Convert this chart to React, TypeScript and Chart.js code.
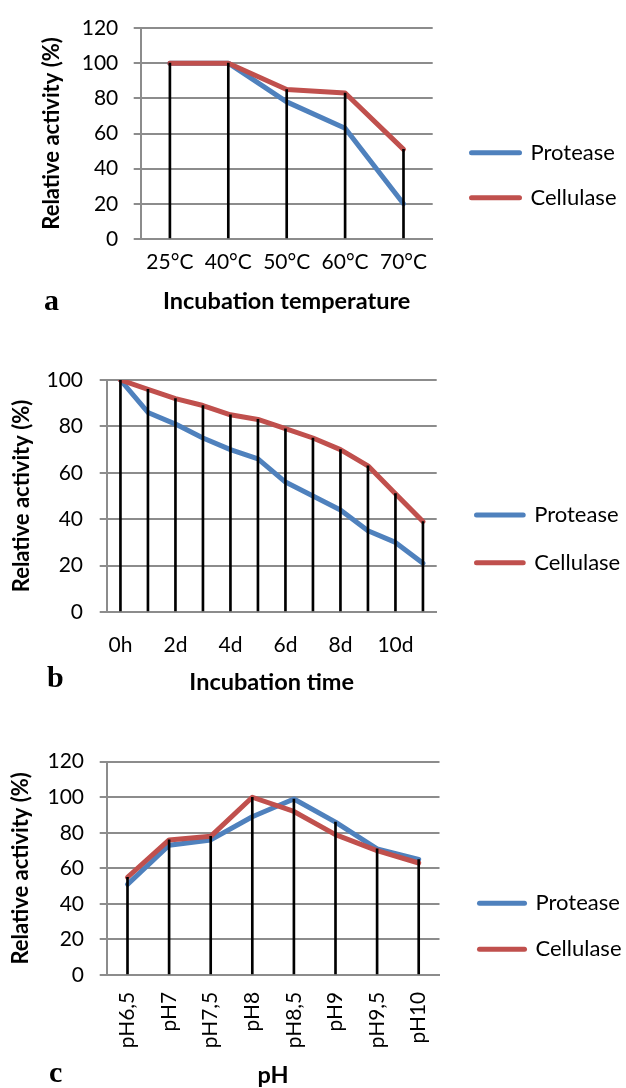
import React, { useEffect, useRef } from 'react';
import { Chart, registerables } from 'chart.js';

Chart.register(...registerables);

// ---------- data ----------
const tempLabels = ['25°C', '40°C', '50°C', '60°C', '70°C'];
const tempProtease = [100, 100, 78, 63, 20];
const tempCellulase = [100, 100, 85, 83, 51];

const timeLabels = ['0h', '1d', '2d', '3d', '4d', '5d', '6d', '7d', '8d', '9d', '10d', '11d'];
const timeProtease = [100, 86, 81, 75, 70, 66, 56, 50, 44, 35, 30, 21];
const timeCellulase = [100, 96, 92, 89, 85, 83, 79, 75, 70, 63, 51, 39];

const phLabels = ['pH6,5', 'pH7', 'pH7,5', 'pH8', 'pH8,5', 'pH9', 'pH9,5', 'pH10'];
const phProtease = [51, 73, 76, 89, 99, 86, 71, 65];
const phCellulase = [55, 76, 78, 100, 92, 79, 70, 63];

const seriesNames = ['Protease', 'Cellulase'];
const yTitle = 'Relative activity (%)';
const yStep = 20;

// ---------- style ----------
const FONT = 'Lato';
const BLUE = '#4F81BD';
const RED = '#C0504D';
const GRID = '#8c8c8c';
const CANVAS_W = 680;
const LEGEND_SIZE = 22;

type Cfg = {
  labels: string[];
  protease: number[];
  cellulase: number[];
  yMax: number;
  xTitle: string;
  top: number;
  height: number;
  padTop: number;
  padBottom: number;
  plotRight: number;
  yWidth: number;
  yTitlePad: number;
  yTickPad: number;
  xHeight: number;
  xTickPad: number;
  xTitlePad: number;
  rotate: boolean;
  skipOdd: boolean;
  gap: number;
  legendPad: number;
  boxW: number;
};

const charts: Cfg[] = [
  {
    labels: tempLabels, protease: tempProtease, cellulase: tempCellulase, yMax: 120,
    xTitle: 'Incubation temperature', top: 0, height: 340,
    padTop: 23, padBottom: 12.6, plotRight: 432.7, yWidth: 140.7, yTitlePad: 39, yTickPad: 15.4,
    xHeight: 88.4, xTickPad: 10.7, xTitlePad: 11.5, rotate: false, skipOdd: false,
    gap: 15.8, legendPad: 23, boxW: 48,
  },
  {
    labels: timeLabels, protease: timeProtease, cellulase: timeCellulase, yMax: 100,
    xTitle: 'Incubation time', top: 350, height: 360,
    padTop: 30, padBottom: 12.3, plotRight: 436.7, yWidth: 106.7, yTitlePad: 8.8, yTickPad: 16.7,
    xHeight: 85.7, xTickPad: 20.9, xTitlePad: 0.8, rotate: false, skipOdd: true,
    gap: 14.1, legendPad: 25.7, boxW: 46.7,
  },
  {
    labels: phLabels, protease: phProtease, cellulase: phCellulase, yMax: 120,
    xTitle: 'pH', top: 720, height: 372,
    padTop: 41.7, padBottom: 1.1, plotRight: 439.5, yWidth: 106.7, yTitlePad: 7.5, yTickPad: 15.7,
    xHeight: 115.9, xTickPad: 16.7, xTitlePad: 1.5, rotate: true, skipOdd: false,
    gap: 16, legendPad: 24, boxW: 45,
  },
];

const panelLetters = [
  { text: 'a', left: 44, top: 285 },
  { text: 'b', left: 47, top: 662 },
  { text: 'c', left: 49, top: 1057 },
];

function LineChart({ cfg }: { cfg: Cfg }) {
  const ref = useRef<HTMLCanvasElement>(null);
  useEffect(() => {
    const drop = cfg.protease.map((v, i) => Math.max(v, cfg.cellulase[i]));
    const tickFont = { family: FONT, size: 21 };
    const yTitleFont = { family: FONT, size: 22, weight: 'bold' as const };
    const xTitleFont = { family: FONT, size: 23.5, weight: 'bold' as const };

    // legend width: just enough to hold the longest label
    const mctx = document.createElement('canvas').getContext('2d')!;
    mctx.font = `${LEGEND_SIZE}px ${FONT}`;
    const textW = Math.max(...seriesNames.map((t) => mctx.measureText(t).width));
    const legendW = cfg.legendPad + cfg.boxW + LEGEND_SIZE / 2 + textW + 2;
    const padRight = CANVAS_W - cfg.plotRight - cfg.gap - legendW;

    const chart = new Chart(ref.current!, {
      type: 'line',
      data: {
        labels: cfg.labels,
        datasets: [
          {
            type: 'bar' as any,
            label: 'drop',
            data: drop,
            backgroundColor: '#000',
            borderWidth: 0,
            barThickness: 2,
            order: 0,
          } as any,
          {
            label: seriesNames[1],
            data: cfg.cellulase,
            borderColor: RED,
            backgroundColor: RED,
            borderWidth: 5,
            pointRadius: 0,
            tension: 0,
            borderCapStyle: 'round',
            borderJoinStyle: 'round',
            order: 1,
          },
          {
            label: seriesNames[0],
            data: cfg.protease,
            borderColor: BLUE,
            backgroundColor: BLUE,
            borderWidth: 5,
            pointRadius: 0,
            tension: 0,
            borderCapStyle: 'round',
            borderJoinStyle: 'round',
            order: 2,
          },
        ],
      },
      options: {
        responsive: false,
        animation: false,
        events: [],
        layout: { padding: { top: cfg.padTop, bottom: cfg.padBottom, left: 0, right: padRight } },
        plugins: {
          tooltip: { enabled: false },
          legend: {
            position: 'right',
            align: 'center',
            maxWidth: legendW,
            labels: {
              usePointStyle: true,
              pointStyle: 'line',
              pointStyleWidth: cfg.boxW,
              padding: cfg.legendPad,
              color: '#000',
              font: { family: FONT, size: LEGEND_SIZE },
              generateLabels: () => [
                { text: seriesNames[0], strokeStyle: BLUE, fillStyle: BLUE, lineWidth: 5, lineCap: 'round', pointStyle: 'line', hidden: false, datasetIndex: 2 } as any,
                { text: seriesNames[1], strokeStyle: RED, fillStyle: RED, lineWidth: 5, lineCap: 'round', pointStyle: 'line', hidden: false, datasetIndex: 1 } as any,
              ],
            },
          },
        },
        scales: {
          x: {
            type: 'category',
            offset: true,
            grid: { display: false, drawTicks: false },
            border: { display: true, color: GRID, width: 2 },
            ticks: {
              color: '#000',
              font: tickFont,
              padding: cfg.xTickPad,
              autoSkip: false,
              maxRotation: cfg.rotate ? 90 : 0,
              minRotation: cfg.rotate ? 90 : 0,
              callback: (_v: any, i: number) => (cfg.skipOdd && i % 2 === 1 ? '' : cfg.labels[i]),
            },
            title: {
              display: true,
              text: cfg.xTitle,
              color: '#000',
              font: xTitleFont,
              padding: { top: 0, bottom: cfg.xTitlePad },
            },
            afterFit: (s: any) => { s.height = cfg.xHeight; },
          },
          y: {
            type: 'linear',
            min: 0,
            max: cfg.yMax,
            ticks: { stepSize: yStep, color: '#000', font: tickFont, padding: cfg.yTickPad },
            grid: { color: GRID, lineWidth: 2, tickLength: 7, drawTicks: true },
            border: { display: true, color: GRID, width: 2 },
            title: {
              display: true,
              text: yTitle,
              color: '#000',
              font: yTitleFont,
              padding: { top: cfg.yTitlePad, bottom: 0 },
            },
            afterFit: (s: any) => { s.width = cfg.yWidth; },
          },
          gapAxis: {
            type: 'linear',
            position: 'right',
            display: true,
            grid: { display: false, drawTicks: false },
            border: { display: false },
            ticks: { display: false },
            title: { display: false },
            afterFit: (s: any) => { s.width = cfg.gap; },
          },
        },
      } as any,
    });
    return () => chart.destroy();
  }, [cfg]);
  return (
    <canvas
      ref={ref}
      width={CANVAS_W}
      height={cfg.height}
      style={{ position: 'absolute', left: 0, top: cfg.top, width: CANVAS_W, height: cfg.height, display: 'block' }}
    />
  );
}

export default function App() {
  return (
    <div
      style={{
        position: 'absolute', left: 0, top: 0, width: 626, height: 1088,
        overflow: 'hidden', background: '#fff',
      }}
    >
      {charts.map((c, i) => (
        <LineChart key={i} cfg={c} />
      ))}
      {panelLetters.map((p) => (
        <div
          key={p.text}
          style={{
            position: 'absolute', left: p.left, top: p.top,
            fontFamily: '"Liberation Serif", serif', fontWeight: 'bold',
            fontSize: 30, lineHeight: '30px', color: '#000',
          }}
        >
          {p.text}
        </div>
      ))}
    </div>
  );
}
